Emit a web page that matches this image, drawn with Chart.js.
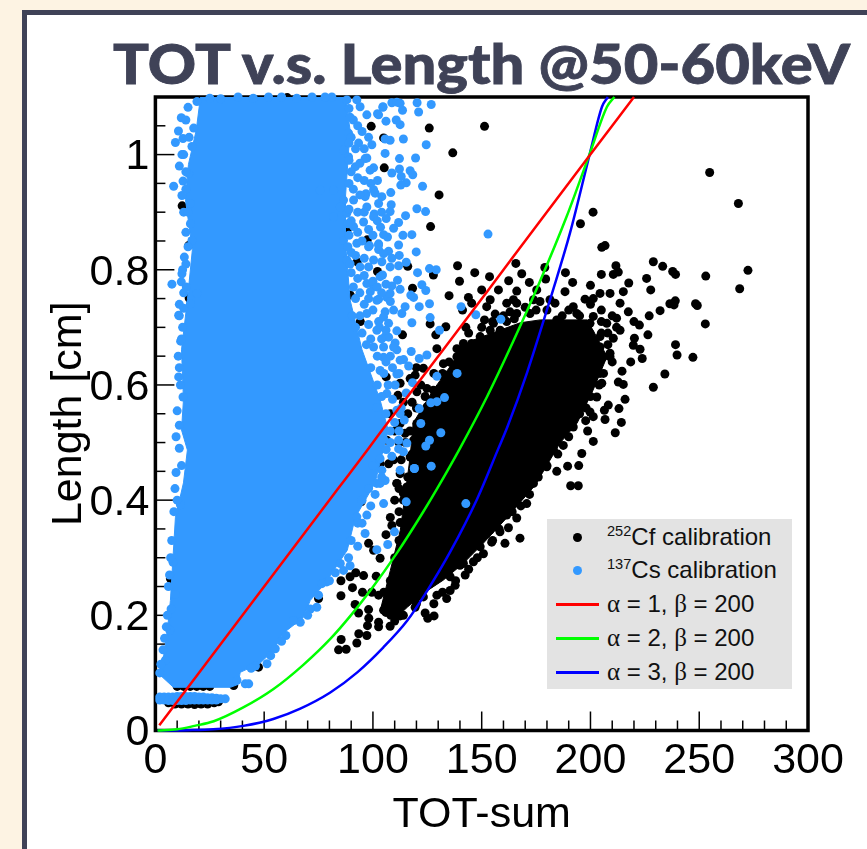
<!DOCTYPE html>
<html lang="en">
<head>
    <meta charset="UTF-8">
    <title>TOT v.s. Length @50-60keV</title>
    <script src="https://cdn.jsdelivr.net/npm/chart.js"></script>
    <style>
        html, body {
            margin: 0;
            padding: 0;
            width: 867px;
            height: 849px;
            overflow: hidden;
            background-color: #fdf3e3;
            font-family: "Liberation Sans", Arial, sans-serif;
        }

        .panel {
            position: absolute;
            left: 22px;
            top: 10px;
            width: 900px;
            height: 900px;
            background-color: #fff;
            border: 5px solid #3f4257;
        }

        h1 {
            position: absolute;
            left: 113px;
            top: 30px;
            margin: 0;
            font-family: Lato, sans-serif;
            font-weight: 900;
            font-size: 55px;
            line-height: 66px;
            color: #3f4257;
            white-space: nowrap;
            transform: scaleX(1.085);
            transform-origin: left center;
            -webkit-text-stroke: 0.8px #3f4257;
        }

        canvas {
            position: absolute;
            left: 0;
            top: 0;
        }

        .legend {
            position: absolute;
            left: 547px;
            top: 519px;
            width: 245px;
            height: 170px;
            background-color: #e3e3e3;
            font-size: 24px;
            color: #111;
        }

        .legend div {
            position: absolute;
            left: 60px;
            line-height: 34px;
            white-space: nowrap;
        }

        .legend sup {
            font-size: 14.6px;
            line-height: 0;
            vertical-align: 9px;
        }

        .legend i {
            font-family: "Liberation Serif", serif;
            font-style: normal;
            font-size: 25px;
        }

        .legend span {
            position: absolute;
        }

        .dot {
            left: 26px;
            width: 9px;
            height: 9px;
            border-radius: 50%;
        }

        .bar {
            left: 9px;
            width: 43px;
            height: 2.5px;
        }
    </style>
</head>
<body>
    <div class="panel"></div>
    <h1>TOT v.s. Length @50-60keV</h1>
    <canvas id="chart" width="867" height="849"></canvas>
    <div class="legend">
        <span class="dot" style="top:14px;background:#000"></span>
        <div style="top:1px"><sup>252</sup>Cf calibration</div>
        <span class="dot" style="top:47px;background:#3399ff"></span>
        <div style="top:34px"><sup>137</sup>Cs calibration</div>
        <span class="bar" style="top:84px;background:#ff0000"></span>
        <div style="top:68px"><i>α</i> = 1, <i>β</i> = 200</div>
        <span class="bar" style="top:118px;background:#00ff00"></span>
        <div style="top:102px"><i>α</i> = 2, <i>β</i> = 200</div>
        <span class="bar" style="top:152px;background:#0000ff"></span>
        <div style="top:136px"><i>α</i> = 3, <i>β</i> = 200</div>
    </div>

    <script>
        const xTicks = [0, 50, 100, 150, 200, 250, 300];
        const yTicks = [0, 0.2, 0.4, 0.6, 0.8, 1];
        const xMinorTicks = [10, 20, 30, 40, 60, 70, 80, 90, 110, 120, 130, 140, 160, 170, 180, 190, 210, 220, 230, 240, 260, 270, 280, 290];
        const yMinorTicks = [0.05, 0.1, 0.15, 0.25, 0.3, 0.35, 0.45, 0.5, 0.55, 0.65, 0.7, 0.75, 0.85, 0.9, 0.95, 1.05];

        // alpha curves as [TOT, length]
        const alpha1 = [[1.8,0.009],[15.2,0.076],[84,0.42],[97.8,0.489],[107.9,0.54],[132.3,0.661],[164.4,0.822],[198.9,0.995],[220,1.1]];
        const alpha2 = [[1,0],[10,0.002],[18,0.008],[26.8,0.016],[40.4,0.04],[54.3,0.072],[68,0.114],[80.4,0.159],[90.5,0.203],[98.8,0.243],[111,0.308],[123,0.379],[129.5,0.42],[140,0.49],[152.5,0.58],[164.4,0.675],[176.8,0.78],[189,0.892],[199.8,1.003],[207.6,1.083],[211,1.1]];
        const alpha3 = [[1,0],[15,0.0005],[26.6,0.002],[40.4,0.008],[54.2,0.02],[66.6,0.038],[80.4,0.066],[92.8,0.101],[104.7,0.144],[115.8,0.191],[125,0.243],[135.5,0.31],[147.9,0.402],[157.6,0.489],[161.7,0.526],[170.9,0.622],[182.4,0.76],[190.6,0.864],[199.8,1.003],[205.3,1.083],[208,1.1]];

        // outlines of the areas where the dots merge into a solid blob
        const csCore = [[20.7,1.1],[87.3,1.1],[89.5,1.043],[87.3,0.922],[87.3,0.852],[89.5,0.748],[95,0.661],[103.3,0.574],[107,0.522],[101,0.43],[91.9,0.37],[88.2,0.313],[78.1,0.256],[71.2,0.226],[68,0.196],[58.8,0.169],[54.2,0.139],[48.2,0.117],[39,0.101],[38,0.08],[34.5,0.075],[8.3,0.075],[1.4,0.099],[3.7,0.127],[5.5,0.174],[6.9,0.226],[9.2,0.37],[12.9,0.43],[14.7,0.487],[12,0.522],[12.9,0.574],[12,0.661],[14.7,0.748],[17,0.835],[13.8,0.922],[15.2,0.983],[18.8,1.043],[20.7,1.1]];
        const cfCore = [[103.4,0.209],[108,0.278],[112.6,0.348],[117.1,0.475],[118.5,0.534],[127.7,0.591],[138.7,0.649],[146.1,0.678],[167.7,0.708],[176.9,0.713],[198.5,0.713],[204.4,0.673],[207.6,0.649],[201.2,0.591],[193.9,0.534],[186,0.499],[174.6,0.426],[161.7,0.37],[150.7,0.325],[141.5,0.29],[132.3,0.261],[123.1,0.238],[115.8,0.214],[109.3,0.191],[103.4,0.209]];

        const cfPoints = [
            [151.3,1.049],[125.9,1.046],[136.7,1.003],[99.2,1.049],[104.9,1.029],[105.2,0.977],[130.4,0.93],[126.5,0.875],[81.5,0.959],[201.2,0.9],[195.4,0.88],[206.7,0.842],[205.2,0.839],
            [138.9,0.807],[165.7,0.811],[179,0.804],[188.5,0.795],[146.8,0.795],[153.6,0.788],[168.4,0.793],[139.8,0.78],[127.8,0.791],[116,0.806],[102.1,0.797],[118.2,0.768],[135,0.755],[179.4,0.784],[171.9,0.778],[162.4,0.781],[191.8,0.778],[200,0.773],
            [211.7,0.807],[212.8,0.796],[210.5,0.792],[205,0.792],[217.6,0.777],[228.9,0.814],[233.2,0.806],[237.8,0.797],[239.1,0.792],[225.8,0.785],[227.7,0.765],[239,0.746],[238.4,0.739],[236.5,0.741],[248.3,0.741],[249.1,0.738],[232,0.729],[227,0.72],[220,0.71],[222.5,0.704],[226.4,0.687],[220.2,0.681],[219.7,0.669],[222.8,0.662],[239.1,0.67],[239.8,0.652],[247.1,0.648],[223.8,0.646],[218.5,0.64],[234.2,0.619],[228.9,0.596],
            [214.5,0.624],[212.8,0.605],[215.1,0.601],[215.9,0.575],[213.1,0.559],[208.2,0.565],[214.2,0.535],[211.4,0.517],[206.7,0.54],[197.8,0.538],[198.7,0.52],[201.3,0.502],[196,0.481],[189.5,0.459],[194.6,0.46],[190.9,0.425],[194.4,0.425],[184.5,0.45],[187.5,0.495],[206.4,0.556],[209,0.655],[213.6,0.695],[210.5,0.681],[213.6,0.742],[217.4,0.727],[212,0.716],
            [204.4,0.759],[209,0.759],[215.1,0.762],[197.5,0.749],[201.3,0.75],[188.3,0.762],[166.1,0.763],[157.7,0.765],[150,0.765],[143.9,0.752],[145.4,0.742],[153.9,0.748],[152.3,0.736],[164.6,0.748],[166.1,0.742],[175.3,0.765],[176.8,0.745],[181.4,0.748],[183.7,0.742],[192.1,0.736],[163,0.727],[156.2,0.723],[151.3,0.713],[142.7,0.7],[141.2,0.73],[133.5,0.701],[128.9,0.687],[126.3,0.706],[113.6,0.687],
            [129.4,0.663],[138.6,0.663],[141.6,0.672],[145.4,0.672],[149.7,0.679],[153.9,0.695],[158.5,0.695],[161.5,0.71],[166.1,0.724],[172.2,0.724],[184.5,0.713],[193.7,0.724],[199.8,0.707],[204.4,0.684],[201.3,0.719],[207.5,0.707],[123.2,0.629],[119.4,0.617],[117.1,0.611],[112.5,0.603],[111.5,0.582],[120.2,0.588],[124.8,0.594],[132.4,0.637],[137,0.635],[106.1,0.614],[204.4,0.62],[205.2,0.603],[209,0.649],[201.3,0.545],[199.8,0.553],[192.1,0.527],[103.3,0.489],[112.5,0.446],[103.3,0.463],[115.6,0.423],[111,0.429],
            [254.8,0.969],[268,0.915],[272.4,0.799],[268.6,0.767],[253,0.789],[252.8,0.706],
            [12.3,0.911],[15.3,0.842],[15.5,0.751],[17.5,0.574],[20.7,0.71],[60.6,1.099],[83.6,1.094],[89.6,0.756],[94.2,0.71],[92.8,0.814],[97.4,0.852],[88.2,0.87],[6.9,0.264],[17,0.391],
            [84.2,0.14],[87.7,0.141],[85.4,0.158],[92.6,0.152],[93.5,0.168],[97.2,0.165],[97.5,0.182],[98.1,0.195],[102.6,0.188],[102.6,0.18],[107.9,0.181],[112.5,0.199],[108.2,0.2],[98,0.21],[93.4,0.204],[91.8,0.219],[85.3,0.234],[95.2,0.24],[90.6,0.248],[85.3,0.26],[89.5,0.267],[92.1,0.274],[95.7,0.269],[101.5,0.268],[99.5,0.24],[102.6,0.235],[106.4,0.22],[104.9,0.209],[98,0.325],[100.3,0.313],[103.3,0.299],[108.7,0.356],[112.5,0.361],
            [124,0.204],[125.2,0.195],[128.1,0.199],[119.4,0.214],[123.2,0.232],[129.4,0.235],[133.9,0.229],[135.5,0.243],[137.8,0.252],[142.4,0.27],[140,0.287],[146.2,0.293],[150.8,0.307],[154.6,0.327],[160.7,0.325],[167.6,0.334],[158.4,0.345],[162.3,0.352],[166.1,0.369],[161.5,0.374],[170.7,0.394],[163,0.409],[91.1,0.373],[94.6,0.397],[75,0.229],[61.2,0.199],[47.4,0.11],[36,0.078],[118.6,0.388],[114,0.412],[111,0.429],[109.5,0.47],
            [120,0.56],[124,0.58],[128,0.62],[132,0.62],[135,0.64],[140,0.66],[144,0.69],[150,0.7],[155,0.71],[160,0.72],[165,0.715],
            [205,0.69],[208,0.67],[210,0.64],[206,0.62],[204,0.6],[200,0.58],[198,0.56],[195,0.55],[190,0.51],[185,0.48],[180,0.46],[176,0.44],[172,0.41],[168,0.39],[164,0.38],[158,0.35],[155,0.33],[148,0.3],[144,0.28],[138,0.26],[132,0.24],[128,0.22],[120,0.22],[114,0.2],[110,0.19],[106,0.205],[105,0.24],[108,0.26],[110,0.3],[112,0.33],[114,0.36],[114,0.4],[116,0.44],[118,0.48],[115,0.5],[117,0.52],
            [170,0.735],[175,0.73],[180,0.73],[187,0.72],[190,0.73],[195,0.72],[200,0.74],[205,0.73],[210,0.72],[205,0.71],[212,0.7],[208,0.69],
            [143.2,0.666],[149.3,0.684],[155.4,0.707],[161.5,0.742],[173.8,0.748],[146.2,0.655],[138.6,0.649],[132.4,0.614],[127.8,0.591],[124.8,0.562],[120.2,0.533],[118.7,0.504],[117.1,0.475],[106.4,0.504],[111,0.521],[107.2,0.463],[117.1,0.44],[112.5,0.533],[114.8,0.516],
            [201.3,0.632],[198.3,0.603],[202.9,0.579],[193.7,0.568],[187.5,0.516],[183,0.487],[179.9,0.458],[173.8,0.429],[205.9,0.649],[204.4,0.666],[199.8,0.69],
            [164.6,0.417],[156.9,0.371],[153.8,0.348],[149.3,0.319],[141.6,0.29],[135.5,0.267],[126.3,0.255],[120.2,0.232],[111,0.203],
            [108,0.55],[110,0.52],[112,0.5],[113,0.47],[112,0.42],[110,0.4],[108,0.37],[106,0.34],[112,0.38],[116,0.55],[114,0.57],[118,0.57],[122,0.6],[120,0.63],
            [6,0.048],[9,0.046],[12,0.046],[15,0.046],[18,0.045],[21,0.046],[24,0.046],[27,0.048],[29,0.05],
            [10,0.0765],[13,0.0765],[16,0.0765],[19,0.0765],[22,0.0765],[25,0.0765]
        ];

        const csPoints = [
            [126.8,1.087],[120.3,1.09],[121,1.074],[108.7,1.09],[111,1.091],[112.5,1.089],[113.6,1.077],[104.6,1.083],[102.1,1.071],[106,1.058],[110.7,1.06],[112.5,1.052],[114,1.027],[124.5,1.017],[105.6,1.027],[107.9,1.025],[105.6,1.002],[112.2,0.993],[119.6,0.994],[99.5,1.017],[97.2,0.994],[100.3,0.977],[108.7,0.968],[112.2,0.975],[113,0.962],[117.1,0.972],[118.3,0.965],[115.3,0.951],[112.8,0.947],[122.8,0.945],[102.1,0.955],[100.3,0.939],[108.2,0.934],[104.1,0.927],[96.8,0.932],[108.4,0.913],[102.6,0.915],[120.2,0.906],[124.2,0.901],[107.9,0.901],[115,0.894],[100.6,0.897],[106.1,0.889],[111.8,0.882],[103.5,0.874],[109.5,0.872],[113.8,0.86],[117.9,0.861],[152.9,0.862],
            [106.7,0.857],[104.9,0.861],[111.8,0.843],[102.6,0.845],[98.4,0.842],[119.9,0.831],[107.2,0.832],[102.6,0.835],[112.1,0.825],[108.7,0.82],[104.1,0.814],[115.3,0.813],[111.8,0.807],[126,0.802],[129.1,0.8],[120.5,0.795],[104.4,0.791],[111.3,0.782],[108.7,0.772],[112.5,0.766],[122.5,0.774],[124.3,0.764],[100.3,0.771],[98.8,0.762],[118.7,0.752],[117.4,0.756],[106.4,0.752],[102.6,0.749],[121.3,0.736],[126,0.741],[140.5,0.736],[147.3,0.722],[158.8,0.714],[130.6,0.695],[126.3,0.717],[114.8,0.736],[109.5,0.73],[105.6,0.727],[113.3,0.724],[117.9,0.708],[111,0.694],[107.2,0.707],[102.6,0.71],[105.6,0.684],[110.2,0.673],[104.9,0.666],[111,0.661],[117.6,0.658],[124.8,0.652],[121.3,0.646],[114.1,0.644],[116.4,0.633],[129.4,0.615],[138.7,0.62],[118.2,0.604],[110.2,0.6],[115.3,0.586],[126.6,0.569],[129.4,0.571],[132.9,0.578],[121.3,0.559],[112.5,0.55],[114.4,0.539],[122,0.533],[131.2,0.517],[111.8,0.504],[115.6,0.499],[126,0.504],[124.3,0.494],[106.1,0.488],[111.8,0.489],[108.7,0.476],[114,0.484],[103.3,0.472],[119.1,0.455],[126.8,0.459],[112.5,0.452],[104.1,0.452],[105.6,0.434],[101.8,0.429],
            [119,0.455],[142.7,0.394],[115.3,0.397],[109.9,0.345],[101.8,0.314],[106.8,0.323],[96.4,0.342],[88.8,0.3],[89.5,0.286],[104.9,0.394],[103.3,0.429],[97.2,0.374],[92.6,0.371],[86.5,0.278],[82.7,0.274],[78.8,0.258],[76.5,0.255],[74.2,0.214],[71.2,0.211],[66.6,0.188],[63.5,0.191],[55.1,0.142],[51.3,0.116],[42.9,0.081],[41.3,0.081],[37.5,0.087],[32.1,0.055],[9.5,0.448],[11.5,0.392],[8.1,0.292],[4.6,0.122],[9.2,0.236],[7.2,0.211],[6.6,0.174],
            [7.6,0.775],[8.4,0.945],[9.2,1.021],[12.2,1],[10.6,1.041],[12.7,1.028],[11.9,1.064],[15,1.082],[19.1,1.092],[12.7,0.954],[12.2,0.929],[11.9,0.779],[13.3,0.822],[12.2,0.793],[14.2,0.77],[10.7,0.721],[13,0.733],[11.6,0.676],[10.7,0.614],[12.7,0.579],[16.1,0.88],[16.8,0.851],[17.6,1.046],[16.8,1.014],[15.3,0.967],[16.1,0.915],[16.1,0.741],[19.1,0.759],
            [88,1.095],[81.1,1.1],[92.6,1.095],[94.1,1.083],[97.2,1.069],[102.6,1.069],[104.6,1.082],[88.8,1.037],[86.5,1.008],[93.4,1.02],[88.8,0.996],[96.4,0.993],[91.9,0.979],[98.7,0.973],[81.9,0.938],[86.5,0.921],[91.1,0.921],[96.4,0.927],[101,0.933],[81.9,0.892],[88,0.898],[97.2,0.909],[91.1,0.875],[95.7,0.883],[100.3,0.892],[86.5,0.851],[92.6,0.846],[98,0.84],[102.6,0.843],[88,0.817],[94.1,0.805],[100.3,0.817],[104.9,0.828],[97.2,0.776],[103.3,0.788],[107.9,0.805],[101.8,0.747],[107.9,0.759],[97.2,0.724],[104.9,0.718],[101.8,0.695],[107.2,0.683],[100.3,0.666],[109.5,0.666],[104.9,0.648],[112.5,0.643],[103.3,0.625],[111,0.619],[106.4,0.585],[101.8,0.561],[111,0.556],[85,0.909],[75.8,0.938],
            [89,1.08],[91,1.06],[93,1.05],[90,1.03],[92,1.01],[95,1.04],[98,1.03],[96,1.01],[94,0.985],[90,0.97],[93,0.96],[96,0.955],[99,0.95],[89,0.95],[91,0.94],[94,0.93],
            [89,0.905],[93,0.9],[90,0.885],[93,0.865],[96,0.9],[98,0.87],[89,0.86],[95,0.85],[100,0.86],[102,0.885],[104,0.9],
            [90,0.83],[92,0.825],[96,0.82],[98,0.805],[90,0.795],[93,0.785],[96,0.79],[100,0.78],[102,0.77],[91,0.77],[94,0.76],[98,0.75],[104,0.76],[106,0.775],[108,0.745],[92,0.75],[96,0.74],[100,0.73],
            [94,0.72],[98,0.705],[103,0.7],[106,0.695],[95,0.69],[99,0.68],[104,0.68],[108,0.65],[97,0.67],[102,0.65],[106,0.64],[99,0.63],[105,0.62],[109,0.63],[102,0.6],[107,0.6],[112,0.62],[104,0.58],[109,0.575],[113,0.56],[106,0.55],[110,0.535],[108,0.52],[112,0.52],[105,0.505],[108,0.5],
            [100,0.46],[104,0.44],[98,0.42],[101,0.41],[95,0.4],[99,0.39],[93,0.36],[95,0.36],[90,0.33],[93,0.32],[85,0.29],[80,0.26],[75,0.235],[70,0.2],[60,0.165],[58,0.155],[53,0.13],[46,0.112],[44,0.108],
            [14,1.06],[15.5,1.03],[13,1],[11,0.98],[14,0.97],[14,0.94],[13,0.9],[15,0.9],[14,0.865],[15,0.84],[14,0.81],[12.5,0.8],[13,0.76],[11,0.74],[12.5,0.7],[11,0.72],[12,0.68],[10.5,0.65],[11,0.63],[11.5,0.6],[10,0.555],[11,0.53],[9.5,0.51],[11,0.49],[12,0.46],[9,0.42],[10,0.4],[8.5,0.38],[7.5,0.33],[7,0.3],[6.5,0.27],[6,0.25],[5.5,0.2],[5,0.18],[4.2,0.16],[3.5,0.14],[2.5,0.115],[2,0.1],
            [25,1.098],[30,1.097],[38,1.1],[45,1.098],[52,1.1],[58,1.1],[65,1.098],[72,1.1],[78,1.1],
            [89,1.02],[89,0.99],[88.5,0.88],[88.5,0.84],[89.5,0.81],[90.5,0.72],[92,0.7],[89.5,1.065],
            [2,0.058],[4,0.058],[6,0.058],[8,0.058],[10,0.059],[12,0.059],[14,0.059],[16,0.059],[18,0.059],[20,0.058],[22,0.058],[24,0.057],[26,0.057],[28,0.056],[30,0.055],
            [2,0.053],[4,0.053],[6,0.052],[8,0.052],[10,0.052],[12,0.052],[14,0.052],[16,0.053],[18,0.053],[20,0.053],[22,0.053],[24,0.053],[26,0.053],[28,0.053]
        ];

        function toXY(pairs) {
            return pairs.map(p => ({ x: p[0], y: p[1] }));
        }

        function curve(pairs, color) {
            return { data: toXY(pairs), showLine: true, cubicInterpolationMode: 'monotone', borderColor: color, borderWidth: 2.5, pointRadius: 0, order: 1, clip: false };
        }

        function dots(pairs, color, order) {
            return { data: toXY(pairs), backgroundColor: color, borderWidth: 0, pointRadius: 4.5, order: order, clip: false };
        }

        function core(pairs, color, order) {
            return { data: toXY(pairs), showLine: true, fill: 'shape', backgroundColor: color, borderColor: color, borderWidth: 1, pointRadius: 0, order: order };
        }

        // ROOT style frame: ticks point inwards on the left and bottom only
        const rootFrame = {
            id: 'rootFrame',
            beforeDatasetsDraw(chart) {
                const { ctx, chartArea: a, scales: { x, y } } = chart;
                ctx.save();
                ctx.strokeStyle = '#000';
                ctx.lineWidth = 1.5;
                const drawX = (v, len) => {
                    ctx.beginPath();
                    ctx.moveTo(x.getPixelForValue(v), a.bottom);
                    ctx.lineTo(x.getPixelForValue(v), a.bottom - len);
                    ctx.stroke();
                };
                const drawY = (v, len) => {
                    ctx.beginPath();
                    ctx.moveTo(a.left, y.getPixelForValue(v));
                    ctx.lineTo(a.left + len, y.getPixelForValue(v));
                    ctx.stroke();
                };
                xTicks.forEach(v => drawX(v, 19));
                xMinorTicks.forEach(v => drawX(v, 10));
                yTicks.forEach(v => drawY(v, 19));
                yMinorTicks.forEach(v => drawY(v, 10));
                ctx.lineWidth = 3.5;
                ctx.strokeRect(a.left, a.top, a.right - a.left, a.bottom - a.top);
                ctx.restore();
            }
        };

        const axisFont = { family: '"Liberation Sans", Arial, sans-serif', size: 43 };
        const titleFont = { family: '"Liberation Sans", Arial, sans-serif', size: 43 };

        new Chart(document.getElementById('chart').getContext('2d'), {
            type: 'scatter',
            data: {
                datasets: [
                    curve(alpha1, '#ff0000'),
                    curve(alpha2, '#00ff00'),
                    curve(alpha3, '#0000ff'),
                    dots(csPoints, '#3399ff', 2),
                    core(csCore, '#3399ff', 3),
                    core(cfCore, '#000000', 4),
                    dots(cfPoints, '#000000', 5)
                ]
            },
            options: {
                responsive: false,
                animation: false,
                layout: { padding: { top: 97, right: 59, left: 0, bottom: 0 } },
                plugins: { legend: { display: false }, tooltip: { enabled: false } },
                scales: {
                    x: {
                        type: 'linear',
                        min: 0,
                        max: 300,
                        grid: { display: false },
                        border: { display: false },
                        afterBuildTicks: s => { s.ticks = xTicks.map(v => ({ value: v })); },
                        afterFit: s => { s.height = 118.5; },
                        ticks: { color: '#000', font: axisFont, padding: -3, maxRotation: 0, autoSkip: false },
                        title: { display: true, text: 'TOT-sum', color: '#000', font: titleFont, padding: { top: 0, bottom: 8 } }
                    },
                    y: {
                        type: 'linear',
                        min: 0,
                        max: 1.1,
                        grid: { display: false },
                        border: { display: false },
                        afterBuildTicks: s => { s.ticks = yTicks.map(v => ({ value: v })); },
                        afterFit: s => { s.width = 155.4; },
                        ticks: { color: '#000', font: axisFont, padding: -2, labelOffset: 3, autoSkip: false, callback: v => String(v) },
                        title: { display: true, text: 'Length [cm]', color: '#000', font: titleFont, padding: { top: 43, bottom: 0 } }
                    }
                }
            },
            plugins: [rootFrame]
        });
    </script>
</body>
</html>
